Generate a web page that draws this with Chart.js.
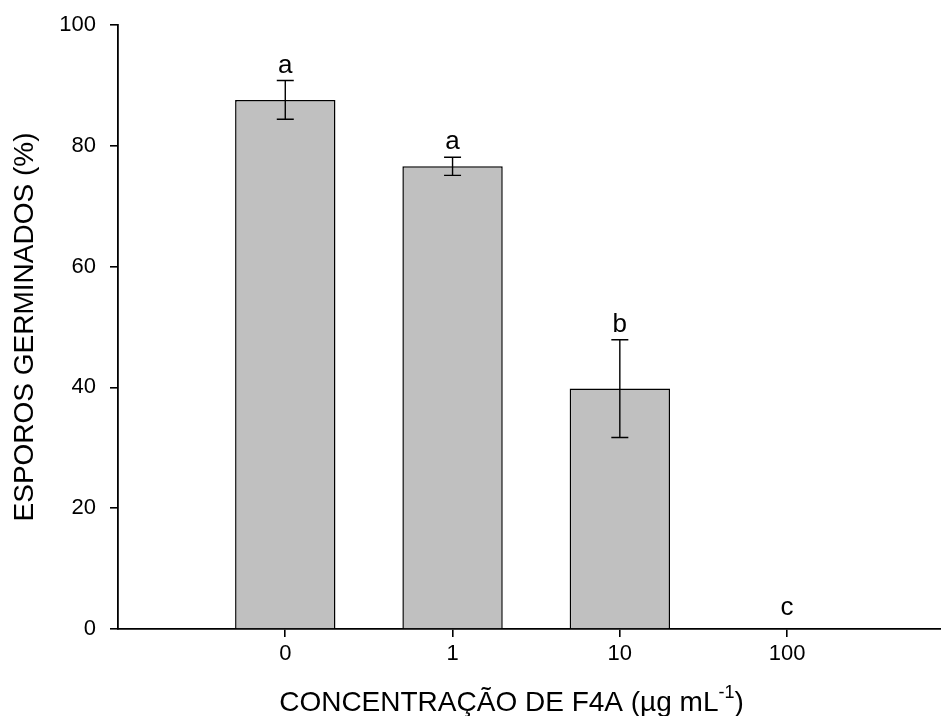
<!DOCTYPE html>
<html>
<head>
<meta charset="utf-8">
<script src="https://cdn.jsdelivr.net/npm/chart.js@4/dist/chart.umd.min.js"></script>
<style>
  html, body { margin: 0; padding: 0; background: #fff; }
  #wrap { width: 941px; height: 716px; }
</style>
</head>
<body>
<div id="wrap"><canvas id="germChart" width="941" height="716"></canvas></div>
<script>
var concLabels = ['0', '1', '10', '100'];
var germMeans = [87.6, 76.6, 39.8, 0];
var germErrors = [3.2, 1.5, 8.1, 0];
var groupLetters = ['a', 'a', 'b', 'c'];
var yTicks = [0, 20, 40, 60, 80, 100];

var FONT = '"Liberation Sans", Arial, sans-serif';

// bars sit on positions 1..n of a linear axis
var barData = germMeans.map((v, i) => ({ x: i + 1, y: v }));

var extrasPlugin = {
    id: 'extras',
    afterDatasetsDraw: function(chart) {
        var ctx = chart.ctx;
        var yScale = chart.scales.y;
        var meta = chart.getDatasetMeta(0);
        ctx.save();
        ctx.strokeStyle = '#000';
        ctx.lineWidth = 1.4;
        ctx.fillStyle = '#000';
        ctx.font = '26px ' + FONT;
        ctx.textAlign = 'center';
        ctx.textBaseline = 'alphabetic';
        meta.data.forEach(function(bar, i) {
            var x = bar.x;
            var top = yScale.getPixelForValue(germMeans[i] + germErrors[i]);
            var bot = yScale.getPixelForValue(germMeans[i] - germErrors[i]);
            if (germErrors[i] > 0) {
                ctx.beginPath();
                ctx.moveTo(x, top); ctx.lineTo(x, bot);
                ctx.moveTo(x - 8.5, top); ctx.lineTo(x + 8.5, top);
                ctx.moveTo(x - 8.5, bot); ctx.lineTo(x + 8.5, bot);
                ctx.stroke();
            }
            ctx.fillText(groupLetters[i], x, top - (germErrors[i] > 0 ? 8 : 14));
        });
        ctx.restore();
    },
    afterDraw: function(chart) {
        var ctx = chart.ctx;
        var area = chart.chartArea;
        ctx.save();
        ctx.fillStyle = '#000';
        // y title
        ctx.save();
        ctx.translate(33, (area.top + area.bottom) / 2);
        ctx.rotate(-Math.PI / 2);
        ctx.font = '28px ' + FONT;
        ctx.textAlign = 'center';
        ctx.textBaseline = 'alphabetic';
        ctx.fillText('ESPOROS GERMINADOS (%)', 0, 0);
        ctx.restore();
        // x title with superscript
        var main = 'CONCENTRAÇÃO DE F4A (µg mL';
        var sup = '-1';
        var tail = ')';
        ctx.font = '28px ' + FONT;
        var w1 = ctx.measureText(main).width;
        var w3 = ctx.measureText(tail).width;
        ctx.font = '18px ' + FONT;
        var w2 = ctx.measureText(sup).width;
        var cx = (area.left + area.right) / 2 - 18;
        var x0 = cx - (w1 + w2 + w3) / 2;
        var base = 711;
        ctx.textAlign = 'left';
        ctx.textBaseline = 'alphabetic';
        ctx.font = '28px ' + FONT;
        ctx.fillText(main, x0, base);
        ctx.font = '18px ' + FONT;
        ctx.fillText(sup, x0 + w1, base - 13);
        ctx.font = '28px ' + FONT;
        ctx.fillText(tail, x0 + w1 + w2, base);
        ctx.restore();
    }
};

var ctx = document.getElementById('germChart').getContext('2d');
var germChart = new Chart(ctx, {
    type: 'bar',
    data: {
        datasets: [{
            data: barData,
            backgroundColor: '#c0c0c0',
            borderColor: '#000',
            borderWidth: 1.5,
            categoryPercentage: 1,
            barPercentage: 0.6
        }]
    },
    options: {
        responsive: false,
        animation: false,
        layout: { padding: { top: 25, right: 0, bottom: 0, left: 0 } },
        plugins: {
            legend: { display: false },
            tooltip: { enabled: false }
        },
        scales: {
            x: {
                type: 'linear',
                offset: false,
                min: 0,
                max: 4.92,
                afterBuildTicks: function(scale) {
                    scale.ticks = concLabels.map((l, i) => ({ value: i + 1 }));
                },
                afterFit: function(scale) {
                    scale.height = 87;
                    scale.paddingLeft = 0;
                    scale.paddingRight = 0;
                },
                ticks: {
                    autoSkip: false,
                    maxRotation: 0,
                    padding: 4,
                    color: '#000',
                    font: { family: FONT, size: 22 },
                    callback: function(v) { return concLabels[v - 1]; }
                },
                grid: {
                    offset: false,
                    drawOnChartArea: false,
                    drawTicks: true,
                    tickLength: 8,
                    color: '#000',
                    lineWidth: 1.6
                },
                border: { display: true, color: '#000', width: 1.8 }
            },
            y: {
                min: 0,
                max: 100,
                afterBuildTicks: function(scale) {
                    scale.ticks = yTicks.map(v => ({ value: v }));
                },
                afterFit: function(scale) {
                    scale.width = 118;
                    scale.paddingTop = 0;
                    scale.paddingBottom = 0;
                },
                ticks: {
                    padding: 14,
                    color: '#000',
                    font: { family: FONT, size: 22 }
                },
                grid: {
                    drawOnChartArea: false,
                    drawTicks: true,
                    tickLength: 8,
                    color: '#000',
                    lineWidth: 1.6
                },
                border: { display: true, color: '#000', width: 1.8 }
            }
        }
    },
    plugins: [extrasPlugin]
});
</script>
</body>
</html>
